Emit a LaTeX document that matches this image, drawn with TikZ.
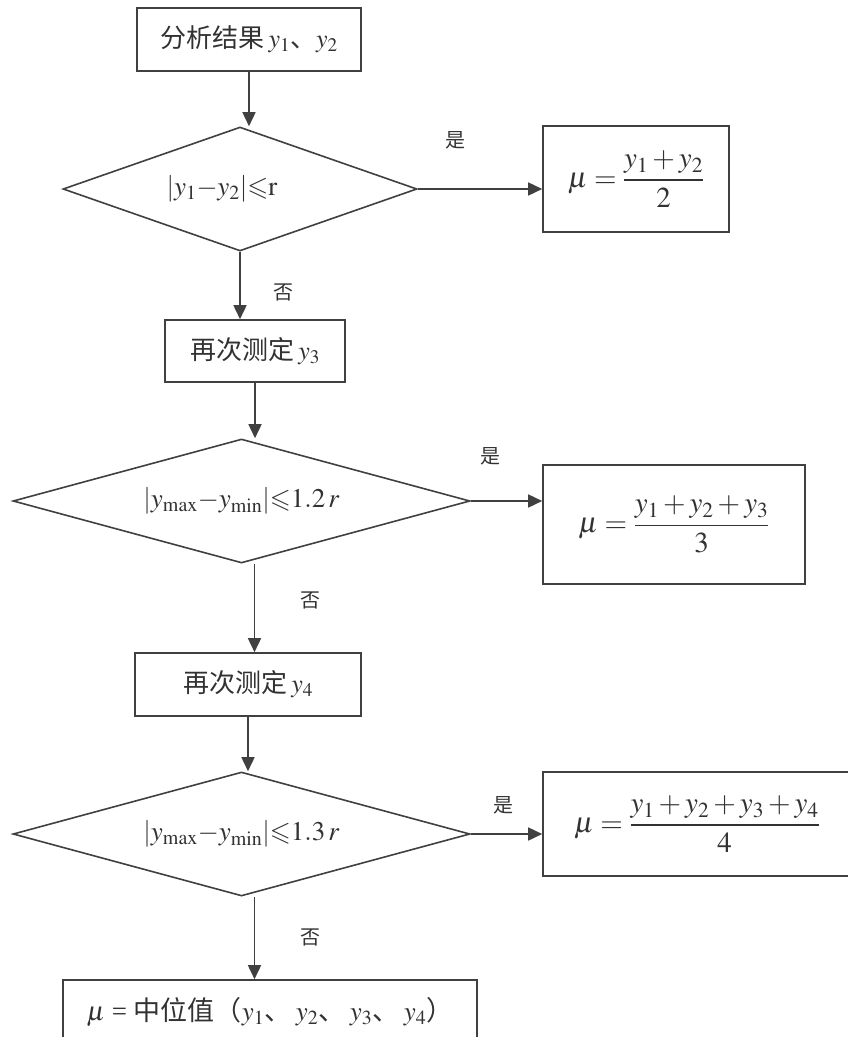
\documentclass[tikz,border=0pt]{standalone}
\usepackage{amsmath}
\usepackage{mathptmx}
\usepackage{amssymb}
\usepackage[no-math]{fontspec}
\setmainfont{Liberation Serif}
\newfontfamily\cjk{Noto Sans CJK SC}
\usetikzlibrary{shapes.geometric,arrows.meta,calc}
\definecolor{ln}{RGB}{64,64,64}
\definecolor{tx}{RGB}{50,50,50}
\begin{document}
\begin{tikzpicture}[x=1pt,y=-1pt,
  every node/.style={text=tx, font=\fontsize{26}{31}\selectfont},
  box/.style={draw=ln, line width=1.6pt, rectangle, inner sep=0pt},
  fr/.style={font=\fontsize{29}{34}\selectfont},
  dia/.style={draw=ln, line width=1.6pt, diamond, aspect=3, inner sep=0pt, font=\fontsize{27}{32}\selectfont},
  lab/.style={font=\fontsize{20}{24}\selectfont\cjk, inner sep=0pt},
  arr/.style={draw=ln, line width=1.6pt, -{Triangle[length=14pt,width=13pt]}}
]
\useasboundingbox (0,0) rectangle (847,1037);

\node[box, minimum width=224pt, minimum height=63pt] (b1) at (249,39.5) {{\cjk 分析结果}\,$y_1${\cjk 、}$y_2$};
\node[dia, minimum width=354pt, minimum height=124pt] (d1) at (240,189) {$|y_1{-}y_2|{\leqslant}\mathrm{r}$\hspace*{36pt}};
\node[box, fr, minimum width=186pt, minimum height=106pt] (b2) at (636,179) {$\mu=\dfrac{y_1+y_2}{2}$};
\node[box, minimum width=180pt, minimum height=62pt] (b3) at (255,351) {{\cjk 再次测定}\,$y_3$};
\node[dia, minimum width=457pt, minimum height=124pt] (d2) at (241.5,501) {$|y_{\max}{-}y_{\min}|{\leqslant}1.2\,r$};
\node[box, fr, minimum width=262pt, minimum height=119pt] (b4) at (674,524.5) {$\mu=\dfrac{y_1+y_2+y_3}{3}$};
\node[box, minimum width=226pt, minimum height=63pt] (b5) at (248,684.5) {{\cjk 再次测定}\,$y_4$};
\node[dia, minimum width=457pt, minimum height=124pt] (d3) at (241.5,834) {$|y_{\max}{-}y_{\min}|{\leqslant}1.3\,r$};
\node[box, fr, minimum width=308pt, minimum height=104pt] (b6) at (697,824) {$\mu=\dfrac{y_1+y_2+y_3+y_4}{4}$};
\node[box, font=\fontsize{27}{32}\selectfont, minimum width=414pt, minimum height=64pt] (b7) at (270,1012) {$\mu$ = {\cjk 中位值（}$y_1${\cjk 、}\,$y_2${\cjk 、}\,$y_3${\cjk 、}\,$y_4${\cjk ）}};

\node[lab] (s1) at (455,140) {是};
\node[lab] (s2) at (490,456) {是};
\node[lab] (s3) at (503,805) {是};
\node[lab] (f1) at (283,292) {否};
\node[lab] (f2) at (310,600) {否};
\node[lab] (f3) at (310,937) {否};

\draw[arr] (b1.south) -- (b1.south |- d1.north);
\draw[arr] (d1.south) -- (d1.south |- b3.north);
\draw[arr] (d1.east) -- (d1.east -| b2.west);
\draw[arr] (b3.south) -- (b3.south |- d2.north);
\draw[arr] (d2.east) -- (d2.east -| b4.west);
\draw[arr] ([xshift=13pt]d2.south) -- ([xshift=13pt]d2.south |- b5.north);
\draw[arr] (b5.south) -- (b5.south |- d3.north);
\draw[arr] (d3.east) -- (d3.east -| b6.west);
\draw[arr] ([xshift=13pt]d3.south) -- ([xshift=13pt]d3.south |- b7.north);
\end{tikzpicture}
\end{document}
